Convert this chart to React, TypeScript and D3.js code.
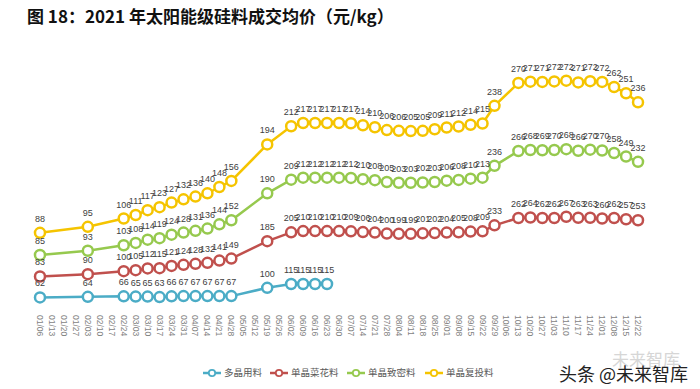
import React, { useEffect, useRef } from 'react';
import * as d3 from 'd3';

const N = null;

const weeks = [
  '01/06', '01/13', '01/20', '01/27', '02/03', '02/10', '02/17', '02/24',
  '03/03', '03/10', '03/17', '03/24', '03/31', '04/07', '04/14', '04/21', '04/28',
  '05/05', '05/12', '05/19', '05/26', '06/02', '06/09', '06/16', '06/23', '06/30',
  '07/07', '07/14', '07/21', '07/28', '08/04', '08/11', '08/18', '08/25',
  '09/01', '09/08', '09/15', '09/22', '09/29', '10/06', '10/13', '10/20', '10/27',
  '11/03', '11/10', '11/17', '11/24', '12/01', '12/08', '12/15', '12/22'
];

// 多晶用料
const polyValues = [
  62, N, N, N, 64, N, N, 66, 65, 65, 63, 66, 67, 67, 67, 67, 67, N, N, 100, N,
  115, 115, 115, 115,
  N, N, N, N, N, N, N, N, N, N, N, N, N, N, N, N, N, N, N, N, N, N, N, N, N, N
];

// 单晶菜花料
const cauliValues = [
  83, N, N, N, 90, N, N, 100, 105, 112, 115, 121, 124, 128, 132, 141, 149, N, N, 185, N,
  205, 210, 210, 210, 210, 209, 206, 204, 200, 199, 199, 201, 202, 204, 205, 208, 209, 233,
  N,
  262, 264, 262, 262, 267, 263, 263, 260, 262, 257, 253
];

// 单晶致密料
const denseValues = [
  85, N, N, N, 93, N, N, 103, 108, 114, 119, 124, 128, 131, 136, 144, 152, N, N, 190, N,
  209, 212, 212, 212, 212, 212, 210, 208, 205, 203, 203, 202, 203, 206, 208, 210, 213, 236,
  N,
  266, 268, 269, 270, 268, 266, 270, 270, 258, 249, 232
];

// 单晶复投料
const rechargeValues = [
  88, N, N, N, 95, N, N, 106, 111, 117, 123, 127, 132, 136, 140, 148, 156, N, N, 194, N,
  212, 217, 217, 217, 217, 217, 214, 210, 206, 206, 205, 205, 209, 211, 212, 214, 215, 238,
  N,
  270, 271, 271, 272, 272, 271, 272, 272, 262, 251, 236
];

const seriesNames = ['多晶用料', '单晶菜花料', '单晶致密料', '单晶复投料'];
const seriesColors = ['#4BACC6', '#C0504D', '#96C94E', '#F5C400'];

const W = 700;
const H = 389;

const App = () => {
  const chartRef = useRef(null);

  useEffect(() => {
    const svg = d3.select(chartRef.current);
    svg.selectAll('*').remove();

    const x = d3.scaleBand().domain(weeks).range([34, 644]);
    const y = d3.scaleLinear().domain([0, 1000]).range([313, 61]);
    const cx = (i: number) => (x(weeks[i]) as number) + x.bandwidth() / 2;

    // stacked series: the poly series keeps its last value as the base once it stops
    let last = 0;
    const polyBase = polyValues.map(v => (v != null ? (last = v) : last));
    const all = [polyValues, cauliValues, denseValues, rechargeValues];
    const stacked = all.map((vals, k) =>
      vals.map((v, i) => {
        if (v == null) return null;
        let sum = k === 0 ? 0 : polyBase[i];
        for (let j = 1; j < k; j++) sum += all[j][i] ?? 0;
        return { i, value: v, top: sum + v };
      }).filter(d => d != null)
    );

    // title
    svg.append('text')
      .attr('x', 27)
      .attr('y', 23)
      .style('font-family', '"Noto Sans CJK SC", "Noto Sans", sans-serif')
      .style('font-weight', 700)
      .style('font-size', '17px')
      .style('fill', '#111')
      .text('图 18：2021 年太阳能级硅料成交均价（元/kg）');

    const line = d3.line<any>()
      .x(d => cx(d.i))
      .y(d => y(d.top));

    stacked.forEach((pts, k) => {
      const g = svg.append('g');
      g.append('path')
        .attr('d', line(pts))
        .attr('fill', 'none')
        .attr('stroke', seriesColors[k])
        .attr('stroke-width', 2.5);
      g.selectAll('circle')
        .data(pts)
        .enter()
        .append('circle')
        .attr('cx', d => cx(d.i))
        .attr('cy', d => y(d.top))
        .attr('r', 5)
        .attr('fill', '#fff')
        .attr('stroke', seriesColors[k])
        .attr('stroke-width', 2.5);
    });

    // data labels
    stacked.forEach(pts => {
      svg.append('g')
        .selectAll('text')
        .data(pts)
        .enter()
        .append('text')
        .attr('x', d => cx(d.i))
        .attr('y', d => y(d.top) - 11)
        .attr('text-anchor', 'middle')
        .style('font-family', '"Liberation Sans", Arial, sans-serif')
        .style('font-size', '9px')
        .style('fill', '#404040')
        .text(d => d.value);
    });

    // category labels
    svg.append('g')
      .selectAll('text')
      .data(weeks)
      .enter()
      .append('text')
      .attr('transform', (d, i) => `translate(${cx(i)}, 315) rotate(90)`)
      .attr('dy', '0.35em')
      .style('font-family', '"Liberation Sans", Arial, sans-serif')
      .style('font-size', '8.5px')
      .style('fill', '#7f7f7f')
      .text(d => d);

    // legend
    const legendX = [203, 270, 347, 425];
    seriesNames.forEach((name, k) => {
      const g = svg.append('g').attr('transform', `translate(${legendX[k]}, 373)`);
      g.append('line')
        .attr('x1', 0).attr('x2', 18)
        .attr('stroke', seriesColors[k])
        .attr('stroke-width', 2.5);
      g.append('circle')
        .attr('cx', 9).attr('r', 3.2)
        .attr('fill', '#fff')
        .attr('stroke', seriesColors[k])
        .attr('stroke-width', 1.8);
      g.append('text')
        .attr('x', 21)
        .attr('dy', '0.35em')
        .style('font-family', '"Noto Sans CJK SC", sans-serif')
        .style('font-size', '9.5px')
        .style('fill', '#595959')
        .text(name);
    });

    // watermark
    svg.append('text')
      .attr('x', 612)
      .attr('y', 366)
      .style('font-family', '"Noto Sans CJK SC", sans-serif')
      .style('font-size', '17px')
      .style('fill', '#bbb')
      .style('opacity', 0.6)
      .text('未来智库');
    svg.append('text')
      .attr('x', 559)
      .attr('y', 381)
      .style('font-family', '"Noto Sans CJK SC", sans-serif')
      .style('font-size', '18px')
      .style('fill', '#222')
      .text('头条 @未来智库');
  }, []);

  return (
    <div style={{ position: 'absolute', left: 0, top: 0, background: '#fff' }}>
      <svg ref={chartRef} width={W} height={H} style={{ display: 'block' }}></svg>
    </div>
  );
};

export default App;
